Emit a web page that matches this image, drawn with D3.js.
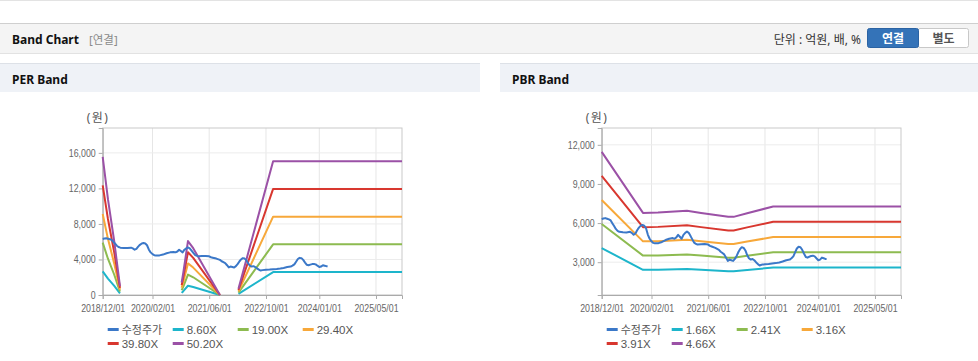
<!DOCTYPE html>
<html><head><meta charset="utf-8">
<script src="https://cdn.jsdelivr.net/npm/d3@7"></script>
<style>
html,body{margin:0;padding:0;background:#fff;}
svg{display:block;font-family:"Noto Sans","Noto Sans CJK KR",sans-serif;}
</style></head><body>
<svg id="c" width="978" height="361"></svg>
<script>
// ---------------- DATA ----------------
const xTickDates = ["2018-12-01","2020-02-01","2021-06-01","2022-10-01","2024-01-01","2025-05-01"];
const xDomain = ["2018-12-01","2025-12-10"];

// adjusted share price (수정주가)
const priceSeries = [
 ["2018-12-01",6300],["2018-12-16",6350],["2019-01-01",6380],["2019-01-16",6330],["2019-02-01",6280],
 ["2019-02-16",6200],["2019-03-01",6000],["2019-03-16",5800],["2019-04-01",5550],["2019-04-16",5400],
 ["2019-05-01",5330],["2019-06-01",5300],["2019-07-01",5280],["2019-08-01",5330],["2019-08-16",5250],
 ["2019-09-01",5100],["2019-09-16",5200],["2019-10-01",5450],["2019-10-16",5650],["2019-11-01",5800],
 ["2019-11-16",5850],["2019-12-01",5800],["2019-12-16",5600],["2020-01-01",5100],["2020-01-16",4800],
 ["2020-02-01",4600],["2020-02-16",4480],["2020-03-01",4450],["2020-04-01",4460],["2020-05-01",4550],
 ["2020-06-01",4700],["2020-07-01",4800],["2020-08-01",4850],["2020-08-16",4800],["2020-09-01",4900],
 ["2020-09-16",5100],["2020-10-01",4950],["2020-10-16",4800],["2020-11-01",5100],["2020-11-16",5250],
 ["2020-12-01",5350],["2020-12-16",5250],["2021-01-01",5000],["2021-01-16",4750],["2021-02-01",4500],
 ["2021-02-16",4400],["2021-03-01",4350],["2021-04-01",4380],["2021-05-01",4400],["2021-06-01",4350],
 ["2021-06-16",4250],["2021-07-01",4200],["2021-08-01",4100],["2021-09-01",3950],["2021-09-16",3800],
 ["2021-10-01",3700],["2021-10-16",3600],["2021-11-01",3350],["2021-11-16",3100],["2021-12-01",3200],
 ["2021-12-16",3150],["2022-01-01",3100],["2022-01-16",3250],["2022-02-01",3500],["2022-02-16",3800],
 ["2022-03-01",4000],["2022-03-16",4150],["2022-04-01",4100],["2022-04-16",3900],["2022-05-01",3550],
 ["2022-05-16",3300],["2022-06-01",3200],["2022-06-16",3250],["2022-07-01",3150],["2022-07-16",3000],
 ["2022-08-01",2850],["2022-08-16",2750],["2022-09-01",2800],["2022-10-01",2850],["2022-11-01",2870],
 ["2022-12-01",2900],["2023-01-01",2930],["2023-02-01",2980],["2023-03-01",3050],["2023-04-01",3150],
 ["2023-05-01",3200],["2023-05-16",3300],["2023-06-01",3450],["2023-06-16",3750],["2023-07-01",4050],
 ["2023-07-16",4180],["2023-08-01",4150],["2023-08-16",3950],["2023-09-01",3650],["2023-09-16",3400],
 ["2023-10-01",3350],["2023-10-16",3420],["2023-11-01",3480],["2023-11-16",3500],["2023-12-01",3450],
 ["2023-12-16",3300],["2024-01-01",3150],["2024-01-16",3200],["2024-02-01",3350],["2024-02-16",3300],
 ["2024-03-01",3250],["2024-03-12",3250]
];

// PER band: trailing EPS (null = gap, negative earnings)
const perMultiples = [8.6, 19.0, 29.4, 39.8, 50.2];
const perLabels = ["8.60X","19.00X","29.40X","39.80X","50.20X"];
const perEps = [
 ["2018-12-01",310],["2019-01-15",215],["2019-03-10",120],["2019-04-28",20],
 ["2019-05-15",null],
 ["2020-10-08",28],["2020-10-22",50],["2020-12-01",121],["2021-01-15",105],["2021-09-01",0],
 ["2021-10-01",null],
 ["2022-02-07",14],["2022-12-01",300],["2025-12-10",300]
];

// PBR band: BPS
const pbrMultiples = [1.66, 2.41, 3.16, 3.91, 4.66];
const pbrLabels = ["1.66X","2.41X","3.16X","3.91X","4.66X"];
const pbrBps = [
 ["2018-12-01",2460],["2019-11-20",1455],["2020-03-28",1460],["2020-12-01",1492],["2021-04-01",1455],
 ["2021-11-20",1390],["2022-01-05",1390],["2022-05-01",1450],["2022-12-10",1560],["2025-12-10",1560]
];

const perYTicks = [0,4000,8000,12000,16000];
const perYDomain = [0,18800];
const pbrYTicks = [3000,6000,9000,12000];
const pbrYDomain = [485,13290];

const priceLabel = "수정주가";
const bandColors = ["#1db5cb","#8dbb50","#f7a83a","#d8372f","#9b51a6"];
const priceColor = "#3b78c8";

// ---------------- DRAW ----------------
const parse = d3.timeParse("%Y-%m-%d");
const svg = d3.select("#c");
const latin = "'Liberation Sans',Arial,sans-serif";

// top lines & header bar
svg.append("rect").attr("x",0).attr("y",0).attr("width",978).attr("height",1).attr("fill","#e3e3e3");
svg.append("rect").attr("x",0).attr("y",24).attr("width",978).attr("height",30).attr("fill","#e2e2e2");
svg.append("rect").attr("x",0).attr("y",23).attr("width",978).attr("height",1).attr("fill","#cfcfcf");
svg.append("rect").attr("x",0).attr("y",24).attr("width",978).attr("height",29).attr("fill","#f4f4f4");
svg.append("text").attr("x",12).attr("y",44).attr("font-size",12).attr("font-weight","bold").attr("fill","#111").text("Band Chart");
svg.append("text").attr("x",89).attr("y",44).attr("font-size",11.5).attr("fill","#8a8a8a").text("[연결]");
svg.append("text").attr("x",861).attr("y",43.5).attr("text-anchor","end").attr("font-size",12).attr("fill","#333").text("단위 : 억원, 배, %");
// buttons
svg.append("rect").attr("x",918).attr("y",28.5).attr("width",50.5).attr("height",19).attr("rx",2).attr("fill","#fff").attr("stroke","#c8c8c8");
svg.append("rect").attr("x",867.5).attr("y",28.5).attr("width",51).attr("height",19).attr("rx",2).attr("fill","#3473b8").attr("stroke","#2b63a3");
svg.append("text").attr("x",893).attr("y",42.5).attr("text-anchor","middle").attr("font-size",12).attr("font-weight","bold").attr("fill","#fff").text("연결");
svg.append("text").attr("x",943.5).attr("y",42.5).attr("text-anchor","middle").attr("font-size",12).attr("font-weight","bold").attr("fill","#555").text("별도");

function panel(px, pw, title) {
  svg.append("rect").attr("x",px).attr("y",63).attr("width",pw).attr("height",1).attr("fill","#dde1e7");
  svg.append("rect").attr("x",px).attr("y",64).attr("width",pw).attr("height",28).attr("fill","#eff2f7");
  svg.append("text").attr("x",px+12).attr("y",84).attr("font-size",12).attr("font-weight","bold").attr("fill","#111").text(title);
}
panel(0,480,"PER Band");
panel(500,478,"PBR Band");

function chart(cfg) {
  const L = cfg.left, R = cfg.left + 299.3, T = 128, B = 295;
  const g = svg.append("g");
  const x = d3.scaleTime().domain(xDomain.map(parse)).range([L,R]);
  const y = d3.scaleLinear().domain(cfg.yDomain).range([B,T]);
  const xt = xTickDates.map(parse);

  // grid
  g.append("g").selectAll("line").data(xt).join("line")
    .attr("x1",d=>x(d)).attr("x2",d=>x(d)).attr("y1",T).attr("y2",B).attr("stroke","#e6e6e6");
  g.append("g").selectAll("line").data(cfg.yTicks).join("line")
    .attr("x1",L).attr("x2",R).attr("y1",d=>y(d)).attr("y2",d=>y(d)).attr("stroke","#ececec");
  g.append("rect").attr("x",L).attr("y",T).attr("width",R-L).attr("height",B-T)
    .attr("fill","none").attr("stroke","#c9c9c9");

  // axes
  const xa = g.append("g").attr("transform",`translate(0,${B})`)
    .call(d3.axisBottom(x).tickValues(xt).tickFormat(d3.timeFormat("%Y/%m/%d")).tickSize(4).tickPadding(6));
  const ya = g.append("g").attr("transform",`translate(${L},0)`)
    .call(d3.axisLeft(y).tickValues(cfg.yTicks).tickFormat(d3.format(",")).tickSize(4).tickPadding(4.3));
  [xa,ya].forEach(a=>{
    a.select(".domain").attr("stroke","#aaa");
    a.selectAll(".tick line").attr("stroke","#aaa");
    a.selectAll(".tick text").attr("fill","#666").attr("font-size",10.5)
      .attr("font-family",latin).attr("transform","scale(0.84,1)");
  });

  g.append("text").attr("x",cfg.left-16).attr("y",122).attr("font-size",12).attr("letter-spacing",1.5)
    .attr("fill","#555").text("(원)");

  // bands
  const base = cfg.base.map(d=>({date:parse(d[0]), v:d[1]}));
  cfg.multiples.forEach((m,i)=>{
    const line = d3.line().defined(d=>d.v!==null).x(d=>x(d.date)).y(d=>y(d.v*m));
    g.append("path").datum(base).attr("d",line).attr("fill","none")
      .attr("stroke",bandColors[i]).attr("stroke-width",2).attr("stroke-linejoin","round");
  });
  // price
  const pd = priceSeries.map(d=>({date:parse(d[0]), v:d[1]}));
  g.append("path").datum(pd).attr("d",d3.line().x(d=>x(d.date)).y(d=>y(d.v)))
    .attr("fill","none").attr("stroke",priceColor).attr("stroke-width",2).attr("stroke-linejoin","round");

  // legend
  const items = [{label:priceLabel,color:priceColor,kr:true}].concat(cfg.labels.map((l,i)=>({label:l,color:bandColors[i]})));
  const lg = g.append("g");
  items.forEach((it,i)=>{
    const col = i%4, row = Math.floor(i/4);
    const lx = L + 5 + col*65, ly = 329.5 + row*14;
    lg.append("line").attr("x1",lx).attr("x2",lx+11).attr("y1",ly).attr("y2",ly)
      .attr("stroke",it.color).attr("stroke-width",3);
    lg.append("text").attr("x",lx+14).attr("y",ly+4)
      .attr("font-size",it.kr?11:11.5).attr("fill","#555")
      .attr("font-family",it.kr?"'Noto Sans CJK KR',sans-serif":latin).text(it.label);
  });
}

chart({left:102.7, yDomain:perYDomain, yTicks:perYTicks, base:perEps, multiples:perMultiples, labels:perLabels});
chart({left:601.7, yDomain:pbrYDomain, yTicks:pbrYTicks, base:pbrBps, multiples:pbrMultiples, labels:pbrLabels});
</script>
</body></html>
